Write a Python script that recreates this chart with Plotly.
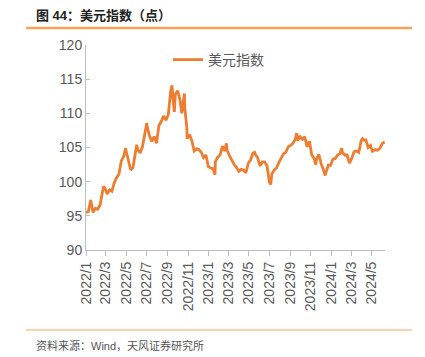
import plotly.graph_objects as go

dates = [
    "2022-01-14", "2022-01-21", "2022-01-28", "2022-02-04", "2022-02-11", "2022-02-18", "2022-02-25",
    "2022-03-04", "2022-03-07", "2022-03-11", "2022-03-18", "2022-03-25", "2022-04-01", "2022-04-08",
    "2022-04-14", "2022-04-22", "2022-04-29", "2022-05-06", "2022-05-12", "2022-05-13", "2022-05-20",
    "2022-05-27", "2022-06-03", "2022-06-10", "2022-06-14", "2022-06-17", "2022-06-24", "2022-07-01",
    "2022-07-08", "2022-07-14", "2022-07-15", "2022-07-22", "2022-07-29", "2022-08-05", "2022-08-12",
    "2022-08-19", "2022-08-26", "2022-09-02", "2022-09-09", "2022-09-16", "2022-09-23", "2022-09-27",
    "2022-09-30", "2022-10-04", "2022-10-07", "2022-10-13", "2022-10-14", "2022-10-21", "2022-10-26",
    "2022-10-28", "2022-11-03", "2022-11-04", "2022-11-10", "2022-11-11", "2022-11-18", "2022-11-25",
    "2022-12-02", "2022-12-09", "2022-12-16", "2022-12-23", "2022-12-30",
    "2023-01-06", "2023-01-13", "2023-01-20", "2023-01-27", "2023-02-02", "2023-02-03", "2023-02-10",
    "2023-02-17", "2023-02-24", "2023-03-03", "2023-03-08", "2023-03-10", "2023-03-17", "2023-03-24",
    "2023-03-31", "2023-04-07", "2023-04-14", "2023-04-21", "2023-04-28", "2023-05-05", "2023-05-12",
    "2023-05-19", "2023-05-26", "2023-05-31", "2023-06-02", "2023-06-09", "2023-06-16", "2023-06-23",
    "2023-06-30", "2023-07-07", "2023-07-14", "2023-07-18", "2023-07-21", "2023-07-28", "2023-08-04",
    "2023-08-11", "2023-08-18", "2023-08-25", "2023-09-01", "2023-09-08", "2023-09-15", "2023-09-22",
    "2023-09-29", "2023-10-03", "2023-10-06", "2023-10-13", "2023-10-20", "2023-10-27", "2023-11-03",
    "2023-11-10", "2023-11-17", "2023-11-24", "2023-11-29", "2023-12-01", "2023-12-08", "2023-12-15",
    "2023-12-22", "2023-12-27", "2023-12-29",
    "2024-01-05", "2024-01-12", "2024-01-19", "2024-01-26", "2024-02-02", "2024-02-09", "2024-02-14",
    "2024-02-16", "2024-02-23", "2024-03-01", "2024-03-08", "2024-03-15", "2024-03-22", "2024-03-29",
    "2024-04-05", "2024-04-12", "2024-04-16", "2024-04-19", "2024-04-26", "2024-05-03", "2024-05-10",
    "2024-05-16", "2024-05-17", "2024-05-24", "2024-05-31", "2024-06-07", "2024-06-14", "2024-06-21",
]

dxy = [
    95.5, 95.6, 97.3, 95.5, 96.1, 96.0, 96.6,
    98.5, 99.3, 99.1, 98.2, 98.8, 98.6, 99.8,
    100.5, 101.1, 103.0, 103.7, 104.9, 104.6, 103.0,
    101.7, 102.1, 104.2, 105.4, 104.7, 104.2, 105.1,
    106.9, 108.6, 108.1, 106.7, 105.9, 106.6, 105.6,
    108.2, 108.8, 109.6, 109.0, 109.8, 113.2, 114.1,
    112.1, 110.2, 112.8, 113.1, 113.3, 111.9, 110.0,
    110.7, 112.9, 110.8, 108.0, 106.3, 106.9, 106.0,
    104.5, 104.8, 104.7, 104.3, 103.5,
    103.9, 102.2, 102.0, 101.9, 101.0, 102.9, 103.6,
    103.9, 105.2, 104.5, 105.6, 104.6, 103.8, 103.1,
    102.5, 102.1, 101.5, 101.8, 101.7, 101.3, 102.7,
    103.2, 104.2, 104.3, 104.0, 103.5, 102.3, 102.9,
    102.9, 102.3, 99.9, 99.6, 101.1, 101.7, 102.0,
    102.8, 103.4, 104.1, 104.3, 105.1, 105.3, 105.6,
    106.2, 107.1, 106.0, 106.6, 106.2, 106.6, 105.1,
    105.9, 103.9, 103.4, 102.5, 103.3, 104.0, 102.6,
    101.7, 100.9, 101.3,
    102.4, 102.4, 103.3, 103.4, 103.9, 104.1, 104.9,
    104.3, 103.9, 103.9, 102.7, 103.4, 104.4, 104.5,
    104.3, 106.0, 106.3, 106.1, 106.1, 105.0, 105.3,
    104.3, 104.5, 104.7, 104.6, 104.9, 105.6, 105.8,
]

tick_dates = [
    "2022-01-14", "2022-03-14", "2022-05-14", "2022-07-14", "2022-09-14", "2022-11-14",
    "2023-01-14", "2023-03-14", "2023-05-14", "2023-07-14", "2023-09-14", "2023-11-14",
    "2024-01-14", "2024-03-14", "2024-05-14",
]
tick_labels = [
    "2022/1", "2022/3", "2022/5", "2022/7", "2022/9", "2022/11",
    "2023/1", "2023/3", "2023/5", "2023/7", "2023/9", "2023/11",
    "2024/1", "2024/3", "2024/5",
]

FONT = "Liberation Sans, Arial, Noto Sans CJK SC, sans-serif"
ORANGE = "#ED7D31"
AXIS = "#BFBFBF"
TXT = "#595959"

# page body offset of the plot div
OFF = 8
W, H = 425 - OFF, 357 - OFF
# plot area in reference pixels: x 86..385, y 45..250
L, R, T, B = 86 - OFF, 385 - OFF, 45 - OFF, 250 - OFF

def px(x):  # reference pixel -> paper
    return (x - OFF - L) / (R - L)

def py(y):
    return (B - (y - OFF)) / (B - T)

fig = go.Figure()
fig.add_trace(go.Scatter(
    x=dates, y=dxy, mode="lines", name="美元指数",
    line=dict(color=ORANGE, width=2.8),
))

fig.update_layout(
    width=W, height=H,
    margin=dict(l=L, r=W - R, t=T, b=H - B),
    paper_bgcolor="white", plot_bgcolor="white",
    font=dict(family=FONT, size=14, color=TXT),
    showlegend=True,
    legend=dict(x=px(168), y=py(44), xanchor="left", yanchor="top",
                bgcolor="rgba(0,0,0,0)", font=dict(size=14, color=TXT),
                itemwidth=30),
    xaxis=dict(
        type="date", range=["2022-01-14", "2024-06-22"],
        tickvals=tick_dates, ticktext=tick_labels, tickangle=-90,
        showline=True, linecolor=AXIS, linewidth=1,
        ticks="outside", ticklen=5, tickcolor=AXIS,
        showgrid=False, zeroline=False,
        tickfont=dict(size=14, color=TXT),
    ),
    yaxis=dict(
        range=[90, 120], dtick=5, tick0=90,
        showline=True, linecolor=AXIS, linewidth=1,
        ticks="inside", ticklen=4, tickcolor=AXIS,
        showgrid=False, zeroline=False,
        tickfont=dict(size=14, color=TXT),
    ),
    shapes=[
        dict(type="line", xref="paper", yref="paper", x0=px(26), x1=px(412),
             y0=py(28), y1=py(28), line=dict(color="#F5A55A", width=2.5)),
        dict(type="line", xref="paper", yref="paper", x0=px(26), x1=px(412),
             y0=py(330), y1=py(330), line=dict(color="#F5A55A", width=1)),
    ],
    annotations=[
        dict(text="<b>图 44：美元指数（点）</b>", xref="paper", yref="paper",
             x=px(34), y=py(15), xanchor="left", yanchor="middle", showarrow=False,
             font=dict(size=13, color="#222222", family=FONT)),
        dict(text="资料来源：Wind，天风证券研究所", xref="paper", yref="paper",
             x=px(34), y=py(345), xanchor="left", yanchor="middle", showarrow=False,
             font=dict(size=11, color="#555555", family=FONT)),
    ],
)

fig.write_html("out.html")
